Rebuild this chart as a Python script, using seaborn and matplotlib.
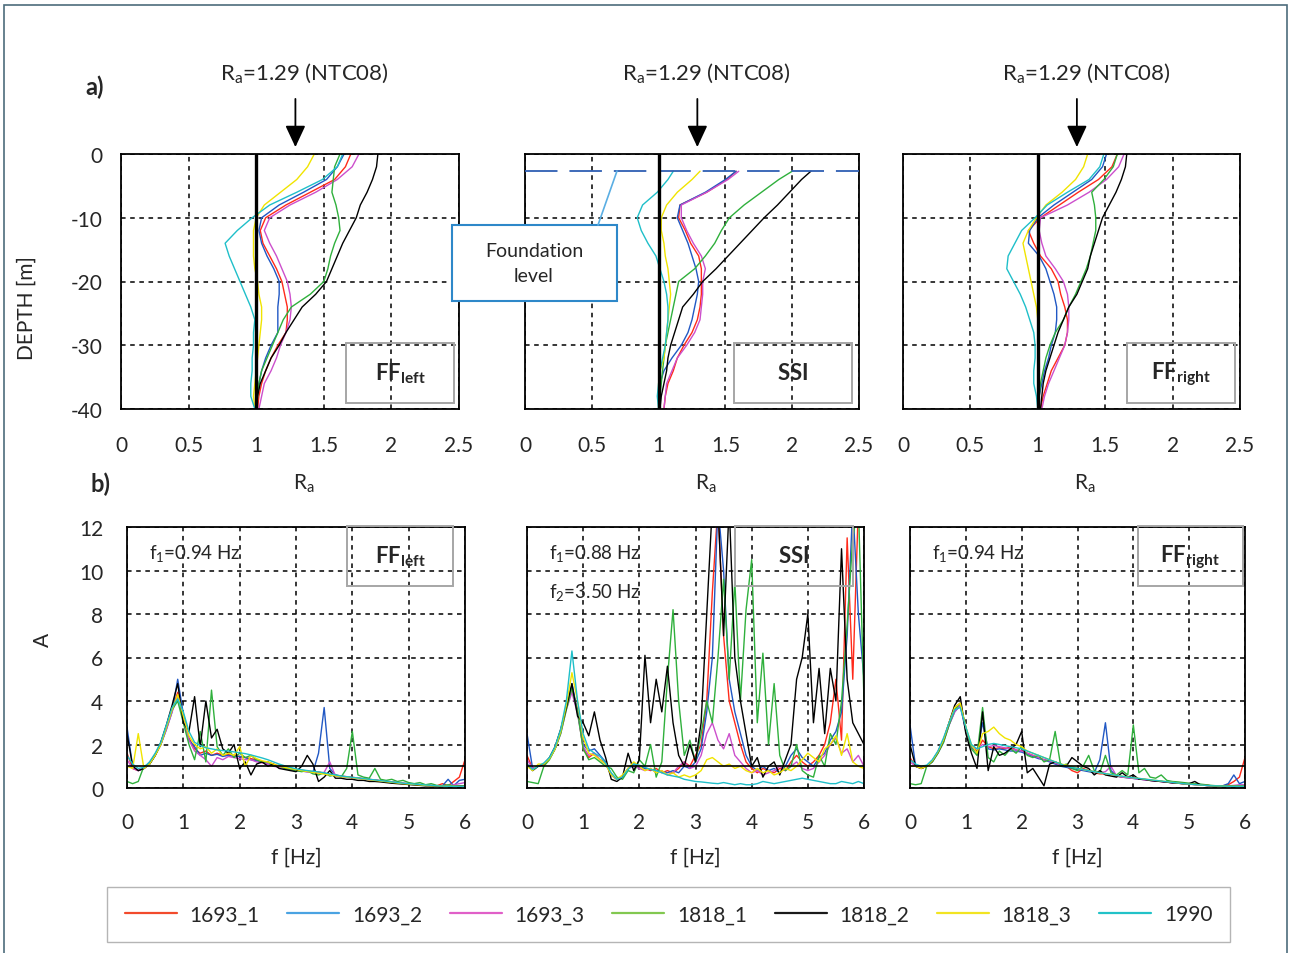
import numpy as np
import pandas as pd
import matplotlib
matplotlib.use("Agg")
import matplotlib.pyplot as plt
import matplotlib.transforms as mtransforms
from matplotlib.patches import Rectangle
from matplotlib.lines import Line2D
from matplotlib.ticker import FormatStrFormatter
import seaborn as sns

# ---------------------------------------------------------------- data
records = ["1693_1", "1693_2", "1693_3", "1818_1", "1818_2", "1818_3", "1990"]
line_colors = ["#ff2a1a", "#2158c4", "#cc4fcc", "#2fb03c", "#000000", "#f0e400", "#1fbfc9"]
legend_colors = ["#f24a2c", "#4aa3e2", "#e05fc8", "#82c850", "#1a1a1a", "#f2e422", "#22c2c8"]

ra_ntc08 = 1.29
foundation_depth = -2.7

# a) amplification ratio Ra vs depth
depth_ff = list(range(0, -41, -2))
depth_ssi = [-2.7, -4, -6, -8, -10, -12, -14, -16, -18, -20,
             -22, -24, -26, -28, -30, -32, -34, -36, -38, -40]

ra_ffl_1693_1 = [1.70, 1.66, 1.58, 1.40, 1.22, 1.07, 1.03, 1.05, 1.10, 1.15, 1.19, 1.21, 1.23, 1.23, 1.22, 1.16, 1.11, 1.07, 1.04, 1.02, 1.01]
ra_ffl_1693_2 = [1.65, 1.60, 1.52, 1.35, 1.17, 1.04, 1.02, 1.04, 1.08, 1.13, 1.17, 1.17, 1.16, 1.16, 1.16, 1.11, 1.07, 1.04, 1.02, 1.00, 0.99]
ra_ffl_1693_3 = [1.76, 1.71, 1.60, 1.44, 1.25, 1.10, 1.06, 1.10, 1.15, 1.19, 1.23, 1.25, 1.26, 1.25, 1.22, 1.18, 1.15, 1.11, 1.06, 1.04, 1.02]
ra_ffl_1818_1 = [1.62, 1.58, 1.57, 1.56, 1.59, 1.61, 1.62, 1.58, 1.55, 1.53, 1.50, 1.40, 1.26, 1.20, 1.16, 1.12, 1.08, 1.04, 1.02, 1.01, 1.00]
ra_ffl_1818_2 = [1.90, 1.89, 1.86, 1.82, 1.77, 1.74, 1.69, 1.64, 1.60, 1.56, 1.52, 1.44, 1.34, 1.28, 1.22, 1.17, 1.11, 1.07, 1.03, 1.01, 1.00]
ra_ffl_1818_3 = [1.43, 1.38, 1.30, 1.18, 1.06, 1.00, 0.98, 0.98, 0.98, 0.99, 1.01, 1.02, 1.04, 1.04, 1.03, 1.02, 1.01, 1.00, 0.99, 0.98, 0.99]
ra_ffl_1990 = [1.64, 1.60, 1.49, 1.30, 1.10, 0.97, 0.86, 0.77, 0.80, 0.84, 0.88, 0.92, 0.96, 0.99, 0.98, 0.98, 0.97, 0.97, 0.96, 0.96, 0.99]

ra_ssi_1693_1 = [1.58, 1.51, 1.36, 1.16, 1.15, 1.20, 1.24, 1.30, 1.32, 1.32, 1.32, 1.31, 1.29, 1.25, 1.19, 1.14, 1.11, 1.07, 1.05, 1.04]
ra_ssi_1693_2 = [1.58, 1.50, 1.35, 1.16, 1.14, 1.18, 1.22, 1.25, 1.28, 1.30, 1.29, 1.27, 1.25, 1.22, 1.17, 1.10, 1.04, 1.01, 1.00, 1.00]
ra_ssi_1693_3 = [1.60, 1.52, 1.36, 1.17, 1.17, 1.21, 1.26, 1.32, 1.35, 1.33, 1.33, 1.32, 1.31, 1.27, 1.21, 1.14, 1.10, 1.06, 1.05, 1.04]
ra_ssi_1818_1 = [2.00, 1.90, 1.77, 1.64, 1.53, 1.47, 1.42, 1.35, 1.27, 1.15, 1.13, 1.11, 1.09, 1.07, 1.05, 1.04, 1.03, 1.02, 1.01, 1.01]
ra_ssi_1818_2 = [2.14, 2.07, 1.98, 1.89, 1.79, 1.70, 1.61, 1.52, 1.43, 1.33, 1.26, 1.18, 1.15, 1.12, 1.09, 1.07, 1.06, 1.04, 1.02, 1.01]
ra_ssi_1818_3 = [1.31, 1.25, 1.14, 1.06, 1.02, 1.02, 1.04, 1.05, 1.07, 1.08, 1.09, 1.08, 1.07, 1.06, 1.05, 1.04, 1.01, 1.00, 1.00, 1.00]
ra_ssi_1990 = [1.11, 1.07, 0.99, 0.88, 0.84, 0.87, 0.92, 0.98, 1.01, 1.04, 1.06, 1.07, 1.07, 1.06, 1.05, 1.03, 1.01, 1.00, 0.99, 1.00]

ra_ffr_1693_1 = [1.59, 1.55, 1.45, 1.30, 1.16, 1.02, 0.93, 0.97, 1.02, 1.10, 1.15, 1.17, 1.20, 1.22, 1.22, 1.20, 1.15, 1.10, 1.07, 1.04, 1.02]
ra_ffr_1693_2 = [1.51, 1.48, 1.40, 1.26, 1.12, 1.00, 0.94, 0.93, 1.01, 1.06, 1.09, 1.12, 1.14, 1.14, 1.13, 1.10, 1.08, 1.05, 1.03, 1.01, 1.00]
ra_ffr_1693_3 = [1.64, 1.60, 1.51, 1.38, 1.22, 1.02, 1.01, 1.03, 1.06, 1.13, 1.19, 1.22, 1.23, 1.23, 1.22, 1.20, 1.16, 1.12, 1.08, 1.05, 1.03]
ra_ffr_1818_1 = [1.59, 1.56, 1.49, 1.40, 1.42, 1.43, 1.43, 1.41, 1.39, 1.36, 1.32, 1.28, 1.23, 1.19, 1.13, 1.09, 1.06, 1.04, 1.02, 1.01, 1.00]
ra_ffr_1818_2 = [1.66, 1.65, 1.62, 1.58, 1.53, 1.48, 1.45, 1.42, 1.39, 1.37, 1.33, 1.29, 1.23, 1.19, 1.15, 1.12, 1.09, 1.06, 1.04, 1.03, 1.02]
ra_ffr_1818_3 = [1.37, 1.34, 1.28, 1.18, 1.06, 0.99, 0.93, 0.89, 0.91, 0.93, 0.95, 0.97, 0.99, 1.00, 1.00, 1.00, 1.00, 1.00, 1.00, 1.00, 1.01]
ra_ffr_1990 = [1.49, 1.46, 1.38, 1.22, 1.07, 0.98, 0.88, 0.83, 0.78, 0.77, 0.82, 0.87, 0.91, 0.94, 0.97, 0.98, 0.98, 0.97, 0.97, 0.99, 1.00]

# b) Fourier amplitude ratio A vs frequency (0 to 6 Hz, every 0.1 Hz)
freq = np.round(np.arange(0, 6.05, 0.1), 1)

a_ffl_1693_1 = [1.6, 0.9, 0.8, 0.9, 1.15, 1.55, 2.0, 2.8, 3.6, 4.4,
                3.2, 2.3, 1.8, 1.6, 1.7, 1.5, 1.6, 1.5, 1.55, 1.5,
                1.45, 1.4, 1.35, 1.3, 1.2, 1.2, 1.1, 1.0, 0.95, 0.9,
                0.85, 0.82, 0.78, 0.75, 0.74, 0.68, 0.62, 0.58, 0.55, 0.52,
                0.49, 0.46, 0.43, 0.4, 0.37, 0.34, 0.31, 0.28, 0.25, 0.22,
                0.2, 0.18, 0.16, 0.14, 0.12, 0.1, 0.2, 0.1, 0.3, 0.5,
                1.3]
a_ffl_1693_2 = [2.8, 1.0, 0.8, 0.9, 1.1, 1.5, 2.0, 2.7, 3.5, 5.0,
                3.4, 2.2, 1.9, 1.5, 1.6, 1.5, 1.55, 1.45, 1.5, 1.45,
                1.45, 1.4, 1.3, 1.25, 1.2, 1.1, 1.05, 1.0, 0.9, 0.85,
                0.8, 0.78, 0.75, 0.72, 1.6, 3.7, 0.9, 0.6, 0.55, 0.5,
                0.48, 0.45, 0.42, 0.39, 0.36, 0.33, 0.3, 0.27, 0.24, 0.21,
                0.19, 0.17, 0.15, 0.13, 0.11, 0.1, 0.1, 0.4, 0.1, 0.35,
                0.4]
a_ffl_1693_3 = [1.3, 0.9, 0.8, 0.9, 1.1, 1.5, 2.0, 2.7, 3.5, 4.2,
                3.2, 2.2, 1.7, 1.5, 1.3, 1.0, 1.4, 1.3, 1.45, 1.4,
                1.35, 1.3, 1.3, 1.2, 1.15, 1.1, 1.0, 0.95, 0.9, 0.85,
                0.8, 0.78, 0.74, 0.7, 0.68, 0.72, 1.2, 0.55, 0.52, 0.5,
                0.47, 0.44, 0.41, 0.38, 0.35, 0.32, 0.29, 0.26, 0.23, 0.2,
                0.18, 0.16, 0.14, 0.12, 0.1, 0.1, 0.1, 0.1, 0.15, 0.2,
                0.25]
a_ffl_1818_1 = [0.3, 0.2, 0.3, 1.0, 1.1, 1.5, 2.0, 2.8, 3.6, 4.0,
                3.0, 2.0, 1.3, 2.6, 1.2, 4.5, 1.9, 1.5, 1.8, 1.4,
                1.6, 1.4, 1.5, 1.3, 1.2, 1.2, 1.0, 1.05, 0.9, 0.85,
                0.8, 0.75, 0.8, 0.65, 0.6, 0.7, 0.55, 0.6, 0.5, 0.9,
                2.6, 0.6, 0.5, 0.45, 0.9, 0.4, 0.35, 0.4, 0.3, 0.35,
                0.25, 0.2, 0.25, 0.15, 0.2, 0.12, 0.1, 0.15, 0.1, 0.1,
                0.1]
a_ffl_1818_2 = [2.5, 1.0, 0.8, 0.9, 1.1, 1.5, 2.1, 2.9, 3.8, 4.8,
                3.0, 2.6, 4.2, 1.9, 4.0, 2.3, 2.7, 1.8, 1.6, 2.0,
                0.9, 1.2, 0.6, 1.1, 1.2, 1.0, 1.1, 0.9, 0.85, 0.8,
                0.75, 1.0, 1.5, 1.1, 0.3, 0.5, 0.8, 0.45, 0.45, 0.4,
                0.4, 0.35, 0.35, 0.3, 0.3, 0.28, 0.25, 0.22, 0.2, 0.18,
                0.16, 0.14, 0.12, 0.1, 0.1, 0.08, 0.08, 0.07, 0.07, 0.1,
                0.1]
a_ffl_1818_3 = [1.0, 0.9, 2.5, 0.9, 1.1, 1.5, 2.0, 2.8, 3.6, 4.3,
                3.3, 2.4, 2.0, 1.8, 1.9, 1.6, 1.8, 1.5, 1.6, 1.5,
                1.9, 1.0, 1.5, 1.35, 1.25, 1.2, 1.1, 1.0, 0.95, 0.9,
                0.85, 0.8, 0.76, 0.72, 0.68, 0.64, 0.6, 0.56, 0.52, 0.5,
                0.47, 0.44, 0.41, 0.38, 0.35, 0.32, 0.29, 0.26, 0.23, 0.2,
                0.18, 0.16, 0.14, 0.12, 0.1, 0.1, 0.09, 0.08, 0.08, 0.08,
                0.08]
a_ffl_1990 = [1.5, 1.1, 0.9, 0.95, 1.2, 1.6, 2.1, 2.9, 3.7, 4.1,
              3.5, 2.6, 2.1, 1.95, 1.85, 1.8, 1.75, 1.72, 1.7, 1.66,
              1.62, 1.58, 1.52, 1.45, 1.38, 1.3, 1.2, 1.1, 1.02, 0.95,
              0.88, 0.84, 0.8, 0.77, 0.74, 0.7, 0.65, 0.6, 0.55, 0.52,
              0.49, 0.46, 0.43, 0.4, 0.37, 0.34, 0.31, 0.28, 0.25, 0.22,
              0.2, 0.18, 0.16, 0.14, 0.12, 0.1, 0.09, 0.08, 0.08, 0.08,
              0.08]

a_ssi_1693_1 = [1.5, 0.9, 1.0, 1.1, 1.35, 1.8, 2.6, 3.7, 4.6, 3.6,
                1.8, 1.4, 1.6, 1.3, 1.2, 0.6, 0.4, 0.5, 0.9, 1.1,
                1.0, 0.9, 0.8, 0.9, 0.7, 0.8, 0.7, 0.9, 1.2, 1.0,
                1.5, 2.0, 4.0, 9.0, 13.0, 7.0, 4.0, 3.0, 2.0, 1.2,
                0.9, 0.7, 0.9, 0.8, 0.7, 0.9, 0.8, 1.2, 1.5, 1.2,
                1.0, 1.2, 1.5, 2.0, 3.0, 5.0, 2.2, 11.5, 5.0, 13.0,
                13.0]
a_ssi_1693_2 = [2.5, 0.9, 1.0, 1.1, 1.35, 1.8, 2.6, 3.7, 4.8, 3.5,
                2.0, 1.7, 1.8, 1.5, 1.2, 0.6, 0.4, 0.5, 0.9, 1.1,
                1.0, 0.9, 0.85, 0.8, 0.75, 0.7, 0.8, 0.7, 1.0, 0.9,
                1.2, 1.8, 3.5, 6.0, 13.0, 10.0, 5.0, 3.5, 2.5, 1.5,
                1.0, 0.8, 1.0, 0.8, 0.9, 0.7, 1.0, 1.5, 1.8, 1.4,
                1.2, 1.0, 1.4, 1.6, 2.2, 2.6, 3.5, 7.0, 13.0, 8.0,
                5.0]
a_ssi_1693_3 = [1.3, 0.9, 1.0, 1.1, 1.35, 1.8, 2.5, 3.6, 4.4, 3.4,
                1.9, 1.5, 1.6, 1.3, 1.1, 0.6, 0.4, 0.5, 0.9, 1.0,
                0.9, 0.8, 0.9, 0.7, 0.8, 0.6, 0.7, 1.0, 1.2, 0.9,
                1.0, 1.5, 2.5, 3.0, 2.2, 1.8, 2.5, 1.5, 1.2, 0.9,
                0.7, 0.8, 0.6, 0.7, 0.8, 1.0, 0.8, 1.0, 1.2, 0.9,
                0.8, 0.9, 1.2, 1.5, 2.0, 2.3, 1.6, 1.8, 1.2, 1.5,
                1.0]
a_ssi_1818_1 = [0.3, 0.25, 0.2, 1.0, 1.3, 1.8, 2.5, 3.6, 4.6, 3.5,
                1.8, 1.3, 1.4, 1.2, 1.0, 0.9, 0.5, 0.4, 0.8, 0.7,
                1.3, 1.0, 2.0, 0.5, 1.2, 5.0, 8.2, 4.0, 1.5, 2.2,
                1.2, 2.5, 4.0, 3.0, 6.0, 9.6, 5.0, 9.5, 4.0, 8.2,
                10.5, 3.0, 6.2, 2.0, 4.8, 1.5, 0.8, 1.0, 2.0, 0.8,
                0.6, 0.5, 1.5, 1.0, 2.5, 2.0, 4.0, 7.5, 11.5, 13.0,
                4.0]
a_ssi_1818_2 = [1.1, 0.8, 1.0, 1.1, 1.4, 1.9, 2.7, 3.7, 4.8, 3.3,
                3.0, 2.4, 3.5, 2.2, 1.4, 0.4, 0.3, 0.5, 1.6, 0.8,
                1.3, 6.1, 3.0, 5.0, 3.5, 5.6, 3.0, 1.5, 1.0, 2.0,
                1.2, 3.0, 8.0, 13.0, 13.0, 7.0, 13.0, 6.0, 4.0, 2.5,
                1.0, 1.4, 0.5, 1.0, 1.2, 0.6, 1.3, 2.0, 5.0, 6.0,
                8.0, 3.0, 5.5, 2.5, 5.5, 4.0, 11.0, 5.0, 3.0, 2.5,
                2.0]
a_ssi_1818_3 = [1.0, 0.8, 1.1, 1.1, 1.35, 1.8, 2.6, 3.8, 5.3, 4.0,
                2.3, 1.6, 1.5, 1.3, 1.1, 0.6, 0.4, 0.6, 0.9, 1.2,
                1.0, 0.8, 0.9, 0.7, 0.8, 0.6, 0.7, 0.5, 0.6, 0.5,
                0.6, 0.8, 1.3, 1.4, 1.2, 1.0, 1.1, 0.9, 1.0, 0.8,
                0.7, 0.9, 0.7, 0.8, 0.6, 0.7, 0.9, 0.8, 1.0, 1.3,
                1.6, 1.4, 1.2, 1.8, 2.0, 2.4, 1.5, 2.5, 1.2, 1.0,
                0.9]
a_ssi_1990 = [1.1, 0.85, 1.0, 1.15, 1.4, 1.9, 2.7, 4.0, 6.3, 4.0,
              2.5, 1.8, 1.6, 1.45, 1.15, 0.7, 0.4, 0.5, 0.85, 1.1,
              1.05, 0.95, 0.85, 0.8, 0.7, 0.6, 0.55, 0.5, 0.4, 0.35,
              0.3, 0.28, 0.25, 0.22, 0.2, 0.25, 0.2, 0.15, 0.2, 0.15,
              0.15, 0.2, 0.3, 0.25, 0.2, 0.25, 0.3, 0.35, 0.4, 0.45,
              0.4, 0.35, 0.3, 0.25, 0.2, 0.2, 0.3, 0.25, 0.2, 0.3,
              0.2]

a_ffr_1693_1 = [1.4, 1.0, 0.9, 1.0, 1.25, 1.65, 2.2, 3.0, 3.7, 3.9,
                2.7, 1.9, 1.7, 2.2, 1.9, 1.8, 1.85, 1.8, 1.9, 1.75,
                1.7, 1.6, 1.5, 1.4, 1.3, 1.25, 1.15, 1.05, 1.0, 0.8,
                0.7, 0.9, 0.8, 0.7, 0.65, 0.65, 0.6, 0.55, 0.5, 0.48,
                0.45, 0.42, 0.38, 0.35, 0.32, 0.3, 0.27, 0.24, 0.22, 0.2,
                0.18, 0.16, 0.14, 0.12, 0.1, 0.1, 0.1, 0.15, 0.3, 0.5,
                1.4]
a_ffr_1693_2 = [2.9, 1.0, 0.9, 1.0, 1.2, 1.6, 2.1, 2.9, 3.5, 3.8,
                2.6, 1.9, 1.6, 3.0, 1.8, 1.75, 1.8, 1.75, 1.7, 1.7,
                1.65, 1.55, 1.45, 1.35, 1.3, 1.2, 1.1, 1.0, 0.95, 0.9,
                0.85, 0.8, 0.75, 0.7, 1.3, 3.0, 0.8, 0.55, 0.5, 0.47,
                0.44, 0.41, 0.38, 0.35, 0.32, 0.3, 0.27, 0.24, 0.22, 0.2,
                0.18, 0.16, 0.14, 0.12, 0.1, 0.1, 0.1, 0.2, 0.6, 0.2,
                0.3]
a_ffr_1693_3 = [1.2, 1.0, 0.9, 1.0, 1.25, 1.65, 2.2, 2.9, 3.5, 3.8,
                2.7, 1.9, 1.8, 2.0, 1.9, 1.95, 1.9, 1.85, 1.8, 1.75,
                1.7, 1.6, 1.5, 1.4, 1.3, 1.25, 1.15, 1.05, 1.0, 0.95,
                0.9, 0.85, 0.8, 0.75, 0.7, 0.75, 1.0, 0.55, 0.5, 0.47,
                0.44, 0.41, 0.38, 0.35, 0.32, 0.3, 0.27, 0.24, 0.22, 0.2,
                0.18, 0.16, 0.14, 0.12, 0.1, 0.1, 0.1, 0.1, 0.12, 0.15,
                0.15]
a_ffr_1818_1 = [0.2, 0.15, 0.2, 1.0, 1.2, 1.6, 2.1, 2.9, 3.6, 3.9,
                2.8, 1.8, 1.5, 3.7, 1.4, 1.2, 1.7, 1.5, 1.8, 1.6,
                1.9, 1.5, 1.4, 1.5, 1.2, 1.3, 2.6, 1.0, 1.1, 0.9,
                0.8, 1.0, 1.5, 0.8, 0.7, 1.5, 0.7, 0.6, 0.8, 0.6,
                2.9, 0.7, 0.9, 0.5, 0.45, 0.6, 0.35, 0.3, 0.28, 0.25,
                0.22, 0.2, 0.18, 0.15, 0.12, 0.1, 0.1, 0.1, 0.1, 0.1,
                0.1]
a_ffr_1818_2 = [2.0, 1.0, 0.9, 1.0, 1.25, 1.65, 2.2, 3.0, 3.8, 4.2,
                2.5, 1.6, 0.9, 3.5, 0.8, 1.9, 1.5, 1.6, 1.8, 2.0,
                2.6, 0.7, 0.9, 0.5, 0.1, 1.1, 1.2, 1.1, 1.0, 1.4,
                1.2, 1.0, 0.9, 0.6, 0.8, 0.6, 0.55, 0.5, 0.7, 0.5,
                0.6, 0.4, 0.4, 0.35, 0.32, 0.3, 0.27, 0.24, 0.22, 0.2,
                0.2, 0.3, 0.15, 0.12, 0.1, 0.1, 0.1, 0.08, 0.08, 0.08,
                0.08]
a_ffr_1818_3 = [1.0, 1.0, 0.9, 1.0, 1.25, 1.65, 2.2, 3.0, 3.7, 3.9,
                2.8, 2.0, 1.6, 2.5, 2.6, 2.8, 2.5, 2.3, 2.2, 2.0,
                1.9, 1.7, 1.6, 1.5, 1.4, 1.3, 1.2, 1.1, 1.05, 1.0,
                0.9, 0.85, 0.8, 0.75, 0.7, 0.66, 0.62, 0.58, 0.54, 0.5,
                0.47, 0.44, 0.41, 0.38, 0.35, 0.32, 0.29, 0.26, 0.23, 0.2,
                0.18, 0.16, 0.14, 0.12, 0.1, 0.1, 0.09, 0.08, 0.08, 0.08,
                0.08]
a_ffr_1990 = [1.3, 1.1, 1.0, 1.05, 1.3, 1.7, 2.3, 3.0, 3.6, 3.7,
              2.8, 2.0, 1.8, 1.9, 2.0, 2.05, 2.0, 1.95, 1.9, 1.85,
              1.8, 1.7, 1.6, 1.5, 1.4, 1.3, 1.2, 1.1, 1.0, 0.95,
              0.9, 0.85, 0.8, 0.75, 0.7, 0.66, 0.62, 0.58, 0.54, 0.5,
              0.47, 0.44, 0.41, 0.38, 0.35, 0.32, 0.29, 0.26, 0.23, 0.2,
              0.18, 0.16, 0.14, 0.12, 0.1, 0.1, 0.09, 0.08, 0.08, 0.08,
              0.08]

panel_names = ["FF", "SSI", "FF"]
panel_subs = ["left", "", "right"]
freq_notes = [["f$_1$=0.94 Hz"], ["f$_1$=0.88 Hz", "f$_2$=3.50 Hz"], ["f$_1$=0.94 Hz"]]


def long_frame(xname, yname, xs, ys):
    parts = []
    for rec, x, y in zip(records, xs, ys):
        parts.append(pd.DataFrame({xname: x, yname: y, "rec": rec}))
    return pd.concat(parts, ignore_index=True)


prof_frames = [
    long_frame("Ra", "depth",
               [ra_ffl_1693_1, ra_ffl_1693_2, ra_ffl_1693_3, ra_ffl_1818_1, ra_ffl_1818_2, ra_ffl_1818_3, ra_ffl_1990],
               [depth_ff] * 7),
    long_frame("Ra", "depth",
               [ra_ssi_1693_1, ra_ssi_1693_2, ra_ssi_1693_3, ra_ssi_1818_1, ra_ssi_1818_2, ra_ssi_1818_3, ra_ssi_1990],
               [depth_ssi] * 7),
    long_frame("Ra", "depth",
               [ra_ffr_1693_1, ra_ffr_1693_2, ra_ffr_1693_3, ra_ffr_1818_1, ra_ffr_1818_2, ra_ffr_1818_3, ra_ffr_1990],
               [depth_ff] * 7),
]
spec_frames = [
    long_frame("f", "A", [freq] * 7,
               [a_ffl_1693_1, a_ffl_1693_2, a_ffl_1693_3, a_ffl_1818_1, a_ffl_1818_2, a_ffl_1818_3, a_ffl_1990]),
    long_frame("f", "A", [freq] * 7,
               [a_ssi_1693_1, a_ssi_1693_2, a_ssi_1693_3, a_ssi_1818_1, a_ssi_1818_2, a_ssi_1818_3, a_ssi_1990]),
    long_frame("f", "A", [freq] * 7,
               [a_ffr_1693_1, a_ffr_1693_2, a_ffr_1693_3, a_ffr_1818_1, a_ffr_1818_2, a_ffr_1818_3, a_ffr_1990]),
]

# ---------------------------------------------------------------- style
sns.set_theme(style="white")
plt.rcParams["font.family"] = ["Lato", "DejaVu Sans"]
plt.rcParams["axes.unicode_minus"] = False
plt.rcParams["mathtext.fontset"] = "custom"
plt.rcParams["mathtext.rm"] = "Lato"
plt.rcParams["mathtext.it"] = "Lato:italic"
plt.rcParams["mathtext.bf"] = "Lato:bold"

W, H = 1290, 954
fig = plt.figure(figsize=(W / 100, H / 100), dpi=100)
palette = dict(zip(records, line_colors))


def px_box(l, r, t, b):
    return [l / W, 1 - b / H, (r - l) / W, (b - t) / H]


top_boxes = [px_box(121, 459, 155, 410), px_box(525, 859, 155, 410), px_box(903, 1240, 155, 410)]
bot_boxes = [px_box(127, 465, 528, 789), px_box(527, 864, 528, 789), px_box(910, 1245, 528, 789)]
top_tags = [(0.666, 0.985), (0.626, 0.979), (0.665, 0.985)]
bot_tags = [(0.651, 0.964), (0.617, 0.967), (0.680, 0.994)]
grid_kw = dict(color="black", linestyle=(0, (3, 3)), linewidth=1.1)


def style_axes(ax):
    for sp in ax.spines.values():
        sp.set_color("black")
        sp.set_linewidth(1.3)
    ax.grid(True, **grid_kw)
    ax.set_axisbelow(True)


def panel_tag(ax, name, sub, x0, x1, y0, y1):
    ax.add_patch(Rectangle((x0, y0), x1 - x0, y1 - y0, transform=ax.transAxes,
                           fill=False, edgecolor="#a6a6a6", linewidth=1.4, clip_on=False, zorder=5))
    label = r"$\mathbf{%s}_{\mathbf{%s}}$" % (name, sub) if sub else r"$\mathbf{%s}$" % name
    ax.text((x0 + x1) / 2, (y0 + y1) / 2, label, transform=ax.transAxes,
            ha="center", va="center", fontsize=16, zorder=6)


# ---------------------------------------------------------------- a) profiles
for i, (box, df) in enumerate(zip(top_boxes, prof_frames)):
    ax = fig.add_axes(box)
    sns.lineplot(data=df, x="Ra", y="depth", hue="rec", hue_order=records, palette=palette,
                 sort=False, estimator=None, legend=False, linewidth=1.0, ax=ax)
    ax.axvline(1.0, color="black", linewidth=2.4, zorder=4)
    ax.set_xlim(0, 2.5)
    ax.set_ylim(-40, 0)
    ax.set_xticks([0, 0.5, 1, 1.5, 2, 2.5])
    ax.set_yticks([0, -10, -20, -30, -40])
    ax.xaxis.set_major_formatter(FormatStrFormatter("%g"))
    style_axes(ax)
    ax.tick_params(axis="x", length=0, pad=19, labelsize=15)
    ax.tick_params(axis="y", length=0, pad=13, labelsize=15)
    ax.set_xlabel(r"R$_{\mathrm{a}}$", fontsize=15)
    ax.xaxis.set_label_coords(0.54, -0.245)
    if i == 0:
        ax.set_ylabel("DEPTH [m]", fontsize=15)
        ax.yaxis.set_label_coords(-0.25, 0.40)
    else:
        ax.set_ylabel("")
        ax.set_yticklabels([])
    if i == 1:
        ax.axhline(foundation_depth, color="#2f5fb3", linewidth=1.3, dashes=(18, 6.6), zorder=3)

    # NTC08 reference arrow
    ax.annotate("", xy=(ra_ntc08, 1.027), xytext=(ra_ntc08, 1.216),
                xycoords=("data", "axes fraction"), textcoords=("data", "axes fraction"),
                arrowprops=dict(arrowstyle="-|>,head_length=0.6,head_width=0.28",
                                mutation_scale=22, color="black", lw=1.3,
                                shrinkA=0, shrinkB=0))
    tr = mtransforms.offset_copy(mtransforms.blended_transform_factory(ax.transData, ax.transAxes),
                                 fig=fig, x=9, y=0, units="dots")
    ax.text(ra_ntc08, 1.32, r"R$_{\mathrm{a}}$=1.29 (NTC08)", transform=tr,
            ha="center", va="center", fontsize=16)
    panel_tag(ax, panel_names[i], panel_subs[i], top_tags[i][0], top_tags[i][1], 0.024, 0.259)

# ---------------------------------------------------------------- b) spectra
for i, (box, df) in enumerate(zip(bot_boxes, spec_frames)):
    ax = fig.add_axes(box)
    sns.lineplot(data=df, x="f", y="A", hue="rec", hue_order=records, palette=palette,
                 estimator=None, legend=False, linewidth=1.0, ax=ax)
    ax.axhline(1.0, color="black", linewidth=1.2, zorder=4)
    ax.set_xlim(0, 6)
    ax.set_ylim(0, 12)
    ax.set_xticks(range(0, 7))
    ax.set_yticks(range(0, 13, 2))
    style_axes(ax)
    ax.tick_params(axis="x", length=0, pad=17, labelsize=15)
    ax.tick_params(axis="y", length=0, pad=17, labelsize=15)
    ax.set_xlabel("f [Hz]", fontsize=15)
    ax.xaxis.set_label_coords(0.5, -0.225)
    if i == 0:
        ax.set_ylabel("A", fontsize=15)
        ax.yaxis.set_label_coords(-0.22, 0.57)
    else:
        ax.set_ylabel("")
        ax.set_yticklabels([])
    for k, note in enumerate(freq_notes[i]):
        ax.text(0.066, 0.904 - 0.153 * k, note, transform=ax.transAxes,
                ha="left", va="center", fontsize=13.5, zorder=6)
    panel_tag(ax, panel_names[i], panel_subs[i], bot_tags[i][0], bot_tags[i][1], 0.774, 1.004)

# ---------------------------------------------------------------- figure annotations
fig.text(95 / W, 1 - 87 / H, "a)", ha="center", va="center", fontsize=17, fontweight="bold")
fig.text(100 / W, 1 - 484 / H, "b)", ha="center", va="center", fontsize=17, fontweight="bold")

# foundation level callout
fig.add_artist(Line2D([598 / W, 617 / W], [1 - 226 / H, 1 - 172 / H], color="#5aaee3",
                      linewidth=1.2, transform=fig.transFigure))
fig.add_artist(Rectangle((452 / W, 1 - 302 / H), 165 / W, 76 / H, transform=fig.transFigure,
                         facecolor="white", edgecolor="#2e88c9", linewidth=1.5))
fig.text(534 / W, 1 - 264 / H, "Foundation\nlevel", ha="center", va="center",
         fontsize=14, linespacing=1.6, color="#262626")

# outer frame
fig.add_artist(Rectangle((4 / W, -0.02), 1283 / W, 1.02 - 6 / H, transform=fig.transFigure,
                         fill=False, edgecolor="#4d6c7c", linewidth=1.2))

handles = [Line2D([], [], color=c, linewidth=1.6) for c in legend_colors]
fig.legend(handles, records, loc="center", ncol=7, mode="expand",
           bbox_to_anchor=(107 / W, 1 - 943 / H, 1123 / W, 55 / H),
           frameon=True, fancybox=False, edgecolor="#b5b5b5", framealpha=1,
           handlelength=2.5, handletextpad=0.6, borderpad=0.85, borderaxespad=0,
           prop=dict(family=["Liberation Sans Narrow", "Lato"], size=15))

fig.savefig("out.png", dpi=100)
